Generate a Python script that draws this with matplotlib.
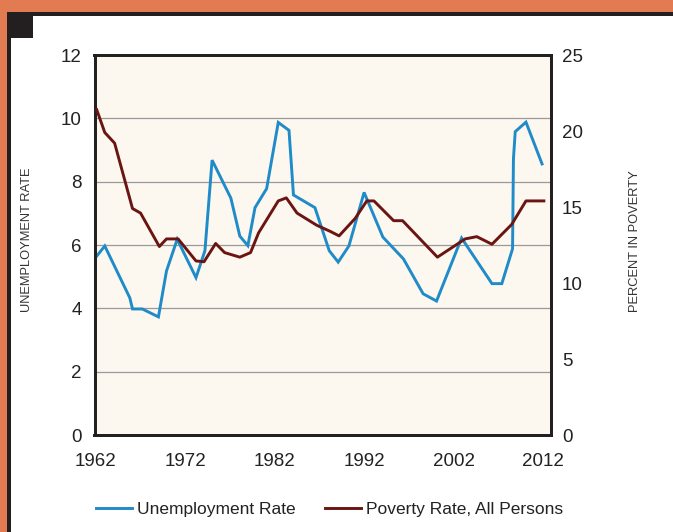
import matplotlib.pyplot as plt
from matplotlib.patches import Rectangle
from matplotlib.lines import Line2D

plt.rcParams['font.family'] = ['Liberation Sans', 'DejaVu Sans']

# values (x in fractional years)
unemp_years = [1962.1, 1963.0, 1965.8, 1966.1, 1967.2, 1969.0, 1969.9, 1971.1,
               1973.2, 1974.2, 1975.0, 1977.1, 1978.1, 1979.0, 1979.8, 1981.1,
               1982.4, 1983.6, 1984.1, 1986.5, 1988.1, 1989.1, 1990.3, 1992.0,
               1994.1, 1996.4, 1998.6, 2000.1, 2002.9, 2006.3, 2007.4, 2008.6,
               2008.7, 2008.9, 2010.1, 2011.9]
unemp_rate = [5.65, 5.97, 4.33, 3.98, 3.98, 3.73, 5.18, 6.18,
              4.97, 5.82, 8.68, 7.48, 6.28, 5.98, 7.18, 7.78,
              9.87, 9.62, 7.58, 7.18, 5.82, 5.46, 5.97, 7.66,
              6.25, 5.56, 4.46, 4.23, 6.22, 4.78, 4.78, 5.88,
              8.72, 9.58, 9.88, 8.56]

pov_years = [1962.1, 1963.0, 1964.1, 1966.1, 1967.0, 1969.1, 1969.9, 1971.2,
             1973.2, 1974.1, 1975.4, 1976.4, 1978.1, 1979.3, 1980.2, 1982.4,
             1983.3, 1984.5, 1986.7, 1988.2, 1989.2, 1991.0, 1992.3, 1993.1,
             1995.3, 1996.3, 2000.2, 2003.3, 2004.6, 2006.3, 2008.5, 2010.1,
             2012.1]
pov_rate = [21.4, 19.9, 19.2, 14.9, 14.6, 12.4, 12.9, 12.9,
            11.45, 11.4, 12.6, 12.0, 11.7, 12.0, 13.3, 15.4,
            15.6, 14.6, 13.8, 13.4, 13.1, 14.25, 15.4, 15.4,
            14.1, 14.1, 11.7, 12.9, 13.05, 12.55, 13.85, 15.4,
            15.4]

left_ticks = [0, 2, 4, 6, 8, 10, 12]
right_ticks = [0, 5, 10, 15, 20, 25]
year_ticks = [1962, 1972, 1982, 1992, 2002, 2012]

blue = '#1f8bc9'
maroon = '#6b1512'
dark = '#231f20'
orange = '#e27a52'

W, H = 673, 532
fig = plt.figure(figsize=(W / 100, H / 100), dpi=100)
fig.patch.set_facecolor('white')

def px_rect(x0, y0, x1, y1, color):
    # rectangle given in pixel coords from top-left
    fig.add_artist(Rectangle((x0 / W, 1 - y1 / H), (x1 - x0) / W, (y1 - y0) / H,
                             transform=fig.transFigure, color=color, lw=0, zorder=0))

px_rect(0, 0, W, 12, orange)
px_rect(0, 0, 7, H, orange)
px_rect(7, 12, W, 16, dark)
px_rect(7, 12, 11, H, dark)
px_rect(7, 12, 33, 38, dark)

ax = fig.add_axes([94.5 / W, 1 - 435 / H, 456.5 / W, 380 / H])
ax.set_facecolor('#fcf7ef')
ax.plot(unemp_years, unemp_rate, color=blue, lw=2.1, solid_joinstyle='miter', zorder=3)
ax.set_xlim(1961.85, 2012.9)
ax.set_ylim(0, 12)
ax.set_yticks(left_ticks)
ax.set_xticks(year_ticks)
ax.grid(axis='y', color='#9a9a9a', lw=0.9)
ax.grid(axis='x', visible=False)
ax.tick_params(length=0, labelsize=13.5, labelcolor='#222222')
ax.tick_params(axis='y', pad=9)
ax.tick_params(axis='x', pad=13)
for s in ax.spines.values():
    s.set_color(dark)
    s.set_linewidth(2)

ax2 = ax.twinx()
ax2.plot(pov_years, pov_rate, color=maroon, lw=2.1, zorder=3)
ax2.set_ylim(0, 25)
ax2.set_yticks(right_ticks)
ax2.tick_params(length=0, labelsize=13.5, labelcolor='#222222', pad=8)
for s in ax2.spines.values():
    s.set_color(dark)
    s.set_linewidth(2)

fig.text(27 / W, 1 - 240 / H, 'UNEMPLOYMENT RATE', rotation=90, ha='center', va='center',
         fontsize=9.3, color='#333333')
fig.text(635 / W, 1 - 241 / H, 'PERCENT IN POVERTY', rotation=90, ha='center', va='center',
         fontsize=9.3, color='#333333')

handles = [Line2D([], [], color=blue, lw=2.1), Line2D([], [], color=maroon, lw=2.1)]
fig.legend(handles, ['Unemployment Rate', 'Poverty Rate, All Persons'], ncol=2,
           loc='center left', bbox_to_anchor=(96 / W, 1 - 509 / H), frameon=False,
           fontsize=12.5, handlelength=2.05, handletextpad=0.3, columnspacing=1.7,
           borderpad=0, borderaxespad=0, labelcolor='#222222')

fig.savefig('out.png', dpi=100)
